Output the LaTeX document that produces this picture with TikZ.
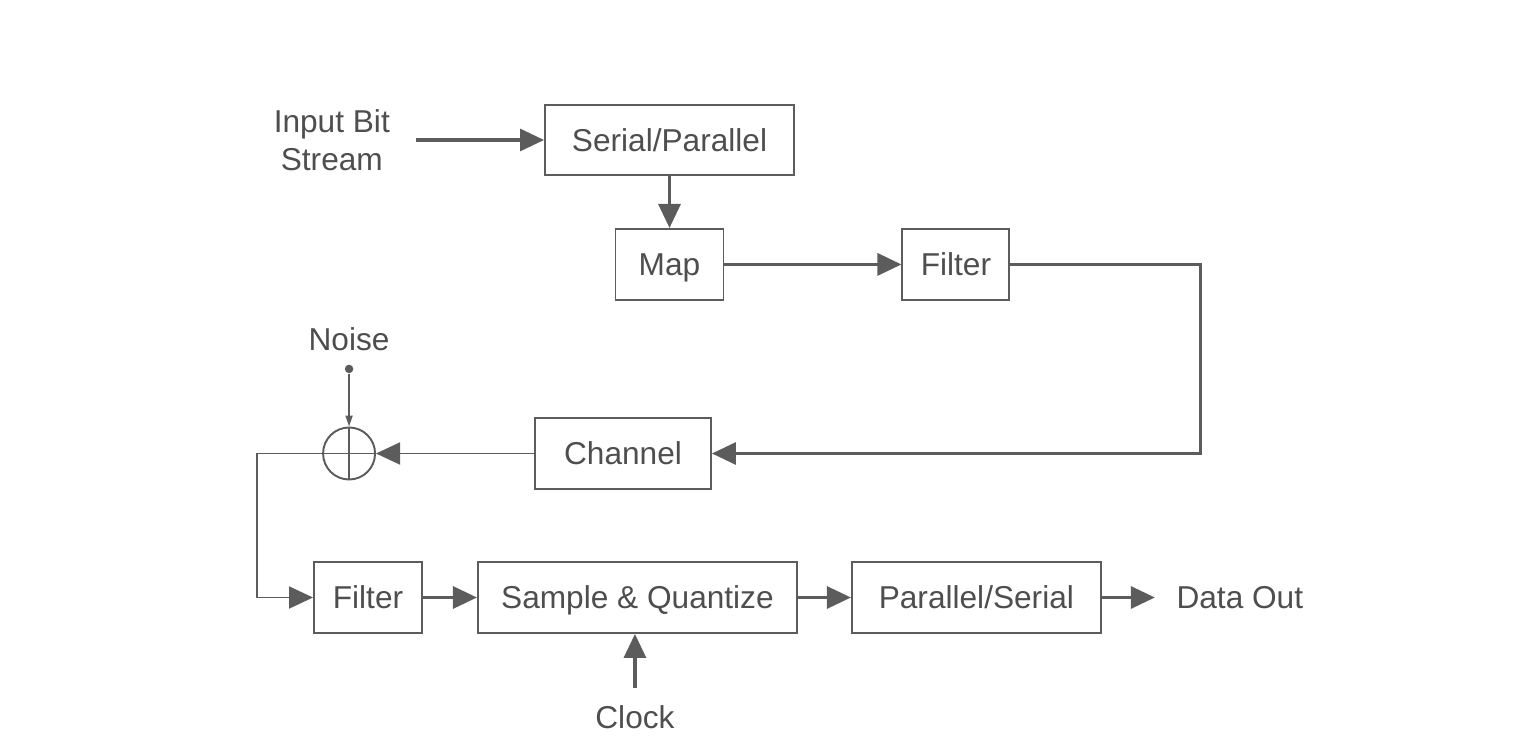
\documentclass[tikz,border=0pt]{standalone}
\usepackage{fontspec}
\setmainfont{Liberation Sans}
\usetikzlibrary{positioning,arrows.meta,calc}
\definecolor{LineGray}{RGB}{92,92,92}
\definecolor{TextGray}{RGB}{78,78,78}
\tikzset{
  flow/.style={-{Triangle[length=0.48cm,width=0.44cm]},line width=1.8pt,draw=LineGray},
  thinflow/.style={-{Triangle[length=0.48cm,width=0.44cm]},line width=1.1pt,draw=LineGray},
  tinyflow/.style={-{Triangle[length=0.22cm,width=0.14cm]},line width=1pt,draw=LineGray},
  blockbox/.style={draw=LineGray,line width=1.1pt,minimum height=1.42cm,inner sep=0pt,
    text height=13pt,text depth=0pt,
    align=center,text=TextGray,font=\fontsize{18}{21.6}\selectfont},
  label/.style={text=TextGray,align=center,font=\fontsize{18}{21.6}\selectfont},
  adderbox/.style={circle,draw=LineGray,line width=1.1pt,minimum size=1.04cm,inner sep=0pt,
    path picture={\draw[LineGray,line width=1.1pt]
      (path picture bounding box.north) -- (path picture bounding box.south)
      (path picture bounding box.west) -- (path picture bounding box.east);}},
  dotnode/.style={circle,fill=LineGray,minimum size=0.17cm,inner sep=0pt}
}
\begin{document}
\begin{tikzpicture}
  \useasboundingbox (0,0) rectangle (30.28,14.8);
  \node[blockbox,minimum width=4.98cm,minimum height=1.4cm] (serpar) at (13.39,12.0) {Serial/Parallel};
  \node[label,left=2.96cm of serpar] (input) {Input Bit\\Stream};
  \node[blockbox,below=1.04cm of serpar,minimum width=2.16cm] (map) {Map};
  \node[blockbox,right=3.54cm of map,minimum width=2.14cm] (filtertx) {Filter};
  \draw[flow,shorten <=0.4cm] (input) -- (serpar);
  \draw[flow] (serpar) -- (map);
  \draw[flow] (map) -- (filtertx);

  \node[blockbox,minimum width=3.52cm] (channel) at (12.46,5.73) {Channel};
  \node[adderbox,left=3.16cm of channel] (adder) {};
  \node[dotnode,above=1.06cm of adder] (noisedot) {};
  \node[label,above=0.15cm of noisedot] (noise) {Noise};
  \draw[flow] (filtertx.east) -- ++(3.8,0) |- (channel.east);
  \draw[thinflow] (channel) -- (adder);
  \draw[tinyflow] (noisedot) -- (adder.north);

  \node[blockbox,minimum width=2.16cm] (filterrx) at (7.36,2.85) {Filter};
  \node[blockbox,right=1.08cm of filterrx,minimum width=6.38cm] (sampq) {Sample \& Quantize};
  \node[blockbox,right=1.06cm of sampq,minimum width=4.98cm] (parser) {Parallel/Serial};
  \node[label,right=1.37cm of parser] (dataout) {Data Out};
  \node[label,below=1.3cm of sampq.south,anchor=north,xshift=-0.05cm] (clock) {Clock};
  \draw[thinflow] (adder.west) -- ++(-1.3,0) |- (filterrx.west);
  \draw[flow] (filterrx) -- (sampq);
  \draw[flow] (sampq) -- (parser);
  \draw[flow,shorten >=0.31cm] (parser) -- (dataout);
  \draw[flow,shorten <=0.22cm] (clock.north) -- (clock.north |- sampq.south);
\end{tikzpicture}
\end{document}
